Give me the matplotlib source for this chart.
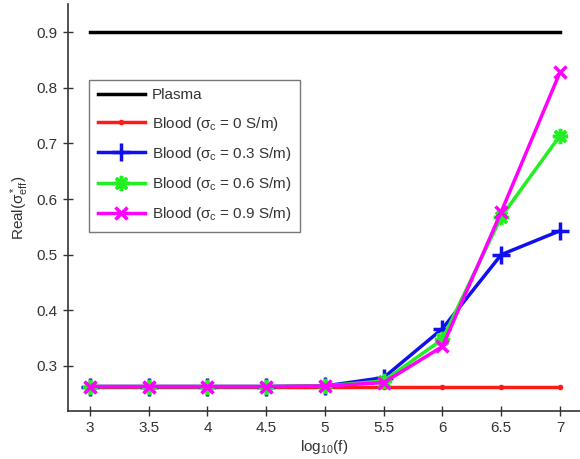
import matplotlib
matplotlib.use("Agg")
import matplotlib.pyplot as plt

plt.rcParams['font.family'] = ['Liberation Sans', 'DejaVu Sans']
plt.rcParams['mathtext.fontset'] = 'custom'
plt.rcParams['mathtext.rm'] = 'Liberation Sans'
plt.rcParams['mathtext.it'] = 'Liberation Sans:italic'
plt.rcParams['mathtext.default'] = 'regular'

x = [3, 3.5, 4, 4.5, 5, 5.5, 6, 6.5, 7]
plasma = [0.9] * 9
blood_0 = [0.263, 0.263, 0.263, 0.263, 0.263, 0.263, 0.263, 0.263, 0.263]
blood_03 = [0.263, 0.263, 0.263, 0.263, 0.264, 0.279, 0.367, 0.500, 0.543]
blood_06 = [0.263, 0.263, 0.263, 0.263, 0.264, 0.273, 0.348, 0.568, 0.714]
blood_09 = [0.263, 0.263, 0.263, 0.263, 0.264, 0.270, 0.335, 0.577, 0.828]
xticks = [3, 3.5, 4, 4.5, 5, 5.5, 6, 6.5, 7]
xtick_labels = ['3', '3.5', '4', '4.5', '5', '5.5', '6', '6.5', '7']
yticks = [0.3, 0.4, 0.5, 0.6, 0.7, 0.8, 0.9]
ytick_labels = ['0.3', '0.4', '0.5', '0.6', '0.7', '0.8', '0.9']

fig = plt.figure(figsize=(5.8, 4.59), dpi=100)
ax = fig.add_axes([0.117, 0.1046, 0.883, 0.886])

lw = 2.5
ax.plot(x, plasma, color='black', lw=lw, label='Plasma')
ax.plot(x, blood_0, color='#ff1a1a', lw=lw, marker='.', ms=6, label=r'Blood ($\sigma_c$ = 0 S/m)')
ax.plot(x, blood_03, color='#1010ee', lw=lw, marker='+', ms=13, mew=2.5, label=r'Blood ($\sigma_c$ = 0.3 S/m)')
ax.plot(x, blood_06, color='#22ee22', lw=lw, marker=(8, 2, 0), ms=11, mew=2.5, label=r'Blood ($\sigma_c$ = 0.6 S/m)')
ax.plot(x, blood_09, color='#ff00ff', lw=lw, marker='x', ms=9, mew=2.5, label=r'Blood ($\sigma_c$ = 0.9 S/m)')

ax.set_xlim(2.813, 7.17)
ax.set_ylim(0.219, 0.95)
ax.set_xticks(xticks)
ax.set_xticklabels(xtick_labels)
ax.set_yticks(yticks)
ax.set_yticklabels(ytick_labels)
ax.tick_params(direction='inout', length=7, width=1, labelsize=11, colors='#333333', pad=4)
for s in ['top', 'right']:
    ax.spines[s].set_visible(False)
for s in ['left', 'bottom']:
    ax.spines[s].set_color('#333333')
    ax.spines[s].set_linewidth(1.2)

ax.set_xlabel(r'log$_{10}$(f)', fontsize=11, color='#333333', labelpad=2)
ax.set_ylabel(r'Real($\sigma^*_{eff}$)', fontsize=11, color='#333333', labelpad=4)

leg = ax.legend(loc='upper left', bbox_to_anchor=(0.0415, 0.814), fontsize=11,
                frameon=True, fancybox=False, edgecolor='#555555', handlelength=3.1,
                labelspacing=0.8, borderpad=0.55, handletextpad=0.45, borderaxespad=0)
leg.get_frame().set_linewidth(1.0)
for t in leg.get_texts():
    t.set_color('#333333')

fig.savefig('out.png', dpi=100)
